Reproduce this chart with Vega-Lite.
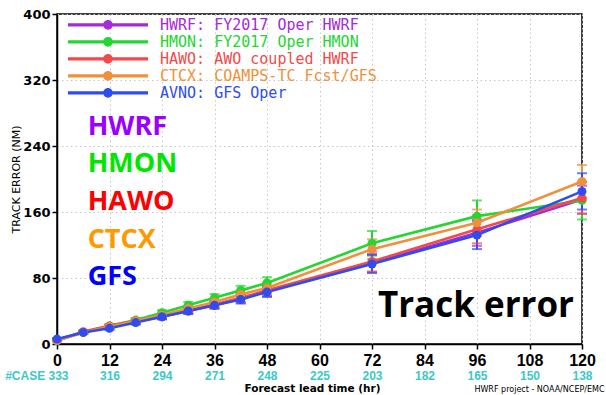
{
  "$schema": "https://vega.github.io/schema/vega-lite/v6.json",
  "width": 525,
  "height": 330,
  "autosize": {"type": "none"},
  "padding": {"left": 57, "top": 14, "right": 24, "bottom": 51},
  "background": "white",
  "title": {
    "text": "Track error",
    "orient": "top",
    "anchor": "end",
    "frame": "group",
    "offset": 0,
    "dx": -8,
    "dy": 344,
    "baseline": "alphabetic",
    "font": "Open Sans",
    "fontSize": 35,
    "fontWeight": "bold",
    "color": "black"
  },
  "datasets": {
    "tracks": [
      {"model": "HWRF: FY2017 Oper HWRF", "hour": 0, "err": 5, "lo": 4, "hi": 6},
      {"model": "HWRF: FY2017 Oper HWRF", "hour": 6, "err": 14, "lo": 12.5, "hi": 15.5},
      {"model": "HWRF: FY2017 Oper HWRF", "hour": 12, "err": 21, "lo": 19, "hi": 23},
      {"model": "HWRF: FY2017 Oper HWRF", "hour": 18, "err": 27, "lo": 24.5, "hi": 29.5},
      {"model": "HWRF: FY2017 Oper HWRF", "hour": 24, "err": 33, "lo": 30, "hi": 36},
      {"model": "HWRF: FY2017 Oper HWRF", "hour": 30, "err": 40, "lo": 36.5, "hi": 43.5},
      {"model": "HWRF: FY2017 Oper HWRF", "hour": 36, "err": 47, "lo": 43, "hi": 51},
      {"model": "HWRF: FY2017 Oper HWRF", "hour": 42, "err": 55, "lo": 50, "hi": 60},
      {"model": "HWRF: FY2017 Oper HWRF", "hour": 48, "err": 64, "lo": 58, "hi": 70},
      {"model": "HWRF: FY2017 Oper HWRF", "hour": 72, "err": 98, "lo": 87, "hi": 109},
      {"model": "HWRF: FY2017 Oper HWRF", "hour": 96, "err": 135, "lo": 119, "hi": 151},
      {"model": "HWRF: FY2017 Oper HWRF", "hour": 120, "err": 175, "lo": 158, "hi": 192},
      {"model": "HMON: FY2017 Oper HMON", "hour": 0, "err": 5, "lo": 4, "hi": 6},
      {"model": "HMON: FY2017 Oper HMON", "hour": 6, "err": 14, "lo": 12.5, "hi": 15.5},
      {"model": "HMON: FY2017 Oper HMON", "hour": 12, "err": 22, "lo": 20, "hi": 24},
      {"model": "HMON: FY2017 Oper HMON", "hour": 18, "err": 29, "lo": 26.5, "hi": 31.5},
      {"model": "HMON: FY2017 Oper HMON", "hour": 24, "err": 38, "lo": 35, "hi": 41},
      {"model": "HMON: FY2017 Oper HMON", "hour": 30, "err": 47, "lo": 43, "hi": 51},
      {"model": "HMON: FY2017 Oper HMON", "hour": 36, "err": 56, "lo": 51.5, "hi": 60.5},
      {"model": "HMON: FY2017 Oper HMON", "hour": 42, "err": 65, "lo": 59.5, "hi": 70.5},
      {"model": "HMON: FY2017 Oper HMON", "hour": 48, "err": 74, "lo": 67, "hi": 81},
      {"model": "HMON: FY2017 Oper HMON", "hour": 72, "err": 122, "lo": 107, "hi": 137},
      {"model": "HMON: FY2017 Oper HMON", "hour": 96, "err": 155, "lo": 136, "hi": 174},
      {"model": "HMON: FY2017 Oper HMON", "hour": 120, "err": 174, "lo": 151, "hi": 197},
      {"model": "HAWO: AWO coupled HWRF", "hour": 0, "err": 4, "lo": 3, "hi": 5},
      {"model": "HAWO: AWO coupled HWRF", "hour": 6, "err": 15, "lo": 13.5, "hi": 16.5},
      {"model": "HAWO: AWO coupled HWRF", "hour": 12, "err": 22, "lo": 20, "hi": 24},
      {"model": "HAWO: AWO coupled HWRF", "hour": 18, "err": 28, "lo": 25.5, "hi": 30.5},
      {"model": "HAWO: AWO coupled HWRF", "hour": 24, "err": 34, "lo": 31, "hi": 37},
      {"model": "HAWO: AWO coupled HWRF", "hour": 30, "err": 41, "lo": 37.5, "hi": 44.5},
      {"model": "HAWO: AWO coupled HWRF", "hour": 36, "err": 48, "lo": 44, "hi": 52},
      {"model": "HAWO: AWO coupled HWRF", "hour": 42, "err": 56, "lo": 51, "hi": 61},
      {"model": "HAWO: AWO coupled HWRF", "hour": 48, "err": 65, "lo": 59, "hi": 71},
      {"model": "HAWO: AWO coupled HWRF", "hour": 72, "err": 100, "lo": 88, "hi": 112},
      {"model": "HAWO: AWO coupled HWRF", "hour": 96, "err": 139, "lo": 122, "hi": 156},
      {"model": "HAWO: AWO coupled HWRF", "hour": 120, "err": 177, "lo": 158, "hi": 196},
      {"model": "CTCX: COAMPS-TC Fcst/GFS", "hour": 0, "err": 4, "lo": 3, "hi": 5},
      {"model": "CTCX: COAMPS-TC Fcst/GFS", "hour": 6, "err": 14, "lo": 12.5, "hi": 15.5},
      {"model": "CTCX: COAMPS-TC Fcst/GFS", "hour": 12, "err": 21, "lo": 19, "hi": 23},
      {"model": "CTCX: COAMPS-TC Fcst/GFS", "hour": 18, "err": 28, "lo": 25.5, "hi": 30.5},
      {"model": "CTCX: COAMPS-TC Fcst/GFS", "hour": 24, "err": 35, "lo": 32, "hi": 38},
      {"model": "CTCX: COAMPS-TC Fcst/GFS", "hour": 30, "err": 43, "lo": 39.5, "hi": 46.5},
      {"model": "CTCX: COAMPS-TC Fcst/GFS", "hour": 36, "err": 51, "lo": 46.5, "hi": 55.5},
      {"model": "CTCX: COAMPS-TC Fcst/GFS", "hour": 42, "err": 60, "lo": 54.5, "hi": 65.5},
      {"model": "CTCX: COAMPS-TC Fcst/GFS", "hour": 48, "err": 68, "lo": 61.5, "hi": 74.5},
      {"model": "CTCX: COAMPS-TC Fcst/GFS", "hour": 72, "err": 115, "lo": 103, "hi": 127},
      {"model": "CTCX: COAMPS-TC Fcst/GFS", "hour": 96, "err": 147, "lo": 131, "hi": 163},
      {"model": "CTCX: COAMPS-TC Fcst/GFS", "hour": 120, "err": 197, "lo": 177, "hi": 217},
      {"model": "AVNO: GFS Oper", "hour": 0, "err": 6, "lo": 5, "hi": 7},
      {"model": "AVNO: GFS Oper", "hour": 6, "err": 14, "lo": 12.5, "hi": 15.5},
      {"model": "AVNO: GFS Oper", "hour": 12, "err": 19, "lo": 17, "hi": 21},
      {"model": "AVNO: GFS Oper", "hour": 18, "err": 26, "lo": 23.5, "hi": 28.5},
      {"model": "AVNO: GFS Oper", "hour": 24, "err": 33, "lo": 30, "hi": 36},
      {"model": "AVNO: GFS Oper", "hour": 30, "err": 40, "lo": 36.5, "hi": 43.5},
      {"model": "AVNO: GFS Oper", "hour": 36, "err": 47, "lo": 43, "hi": 51},
      {"model": "AVNO: GFS Oper", "hour": 42, "err": 54, "lo": 49, "hi": 59},
      {"model": "AVNO: GFS Oper", "hour": 48, "err": 63, "lo": 57, "hi": 69},
      {"model": "AVNO: GFS Oper", "hour": 72, "err": 97, "lo": 86, "hi": 108},
      {"model": "AVNO: GFS Oper", "hour": 96, "err": 132, "lo": 115, "hi": 149},
      {"model": "AVNO: GFS Oper", "hour": 120, "err": 185, "lo": 163, "hi": 207}
    ],
    "cases": [
      {"hour": 0, "cases": "333"},
      {"hour": 12, "cases": "316"},
      {"hour": 24, "cases": "294"},
      {"hour": 36, "cases": "271"},
      {"hour": 48, "cases": "248"},
      {"hour": 60, "cases": "225"},
      {"hour": 72, "cases": "203"},
      {"hour": 84, "cases": "182"},
      {"hour": 96, "cases": "165"},
      {"hour": 108, "cases": "150"},
      {"hour": 120, "cases": "138"}
    ],
    "names": [
      {"name": "HWRF"},
      {"name": "HMON"},
      {"name": "HAWO"},
      {"name": "CTCX"},
      {"name": "GFS"}
    ]
  },
  "layer": [
    {
      "data": {"name": "tracks"},
      "encoding": {
        "x": {
          "field": "hour",
          "type": "quantitative",
          "scale": {"domain": [0, 120], "nice": false},
          "axis": {
            "values": [0, 12, 24, 36, 48, 60, 72, 84, 96, 108, 120],
            "title": "Forecast lead time (hr)",
            "titleFont": "DejaVu Sans",
            "titleFontSize": 10.5,
            "titleFontWeight": "bold",
            "titleColor": "black",
            "titleX": 255,
            "titleY": 47,
            "titleAlign": "center",
            "titleBaseline": "alphabetic",
            "labelFont": "Liberation Sans Narrow, Liberation Sans",
            "labelFontSize": 16,
            "labelFontWeight": "bold",
            "labelColor": "black",
            "labelPadding": 3,
            "labelFlush": false,
            "labelOverlap": false,
            "tickSize": 5,
            "tickColor": "black",
            "tickWidth": 1.5,
            "domainColor": "black",
            "domainWidth": 1.5,
            "grid": true,
            "gridColor": "#c8c8c8",
            "gridDash": [1.5, 3]
          }
        },
        "y": {
          "field": "err",
          "type": "quantitative",
          "title": "TRACK ERROR (NM)",
          "scale": {"domain": [0, 400], "nice": false},
          "axis": {"values": [0, 80, 160, 240, 320, 400]}
        },
        "color": {
          "field": "model",
          "type": "nominal",
          "scale": {
            "domain": ["HWRF: FY2017 Oper HWRF", "HMON: FY2017 Oper HMON", "HAWO: AWO coupled HWRF", "CTCX: COAMPS-TC Fcst/GFS", "AVNO: GFS Oper"],
            "range": ["#a52ad8", "#23d630", "#f24a4a", "#f0903a", "#2e4cf0"]
          },
          "legend": {
            "title": null,
            "orient": "none",
            "legendX": 11,
            "legendY": 2.5,
            "padding": 0,
            "rowPadding": 0,
            "clipHeight": 16.7,
            "symbolType": "M-1,-0.042L1,-0.042L1,0.042L-1,0.042Z M0.12,0A0.12,0.12 0 1 1 -0.12,0A0.12,0.12 0 1 1 0.12,0Z",
            "symbolSize": 6400,
            "symbolStrokeWidth": 0,
            "symbolOpacity": 1,
            "labelOffset": 12,
            "labelFont": "DejaVu Sans Mono",
            "labelFontSize": 15,
            "labelLimit": 0,
            "encode": {
              "symbols": {"update": {"fill": {"scale": "color", "field": "value"}, "fillOpacity": {"value": 1}, "opacity": {"value": 1}}},
              "labels": {"update": {"fill": {"scale": "color", "field": "value"}}}
            }
          }
        }
      },
      "layer": [
        {
          "mark": {"type": "rule", "strokeWidth": 2},
          "encoding": {
            "y": {"field": "lo", "type": "quantitative", "title": "TRACK ERROR (NM)", "scale": {"domain": [0, 400], "nice": false}, "axis": {"values": [0, 80, 160, 240, 320, 400]}},
            "y2": {"field": "hi"}
          }
        },
        {
          "mark": {"type": "tick", "orient": "horizontal", "size": 10, "thickness": 2},
          "encoding": {
            "y": {"field": "lo", "type": "quantitative", "title": "TRACK ERROR (NM)", "scale": {"domain": [0, 400], "nice": false}, "axis": {"values": [0, 80, 160, 240, 320, 400]}}
          }
        },
        {
          "mark": {"type": "tick", "orient": "horizontal", "size": 10, "thickness": 2},
          "encoding": {
            "y": {"field": "hi", "type": "quantitative", "title": "TRACK ERROR (NM)", "scale": {"domain": [0, 400], "nice": false}, "axis": {"values": [0, 80, 160, 240, 320, 400]}}
          }
        },
        {"mark": {"type": "line", "strokeWidth": 2.6}},
        {"mark": {"type": "point", "filled": true, "size": 80, "opacity": 1}}
      ]
    },
    {
      "data": {"name": "cases"},
      "mark": {"type": "point", "opacity": 0},
      "encoding": {
        "x": {
          "field": "cases",
          "type": "ordinal",
          "sort": null,
          "scale": {"type": "point", "padding": 0},
          "axis": {
            "orient": "bottom",
            "offset": 20,
            "domain": false,
            "ticks": false,
            "tickSize": 0,
            "grid": false,
            "labelPadding": 6,
            "labelAngle": 0,
            "labelOverlap": false,
            "labelFont": "Liberation Sans",
            "labelFontSize": 12,
            "labelFontWeight": "bold",
            "labelColor": "#3cc8c8",
            "labelExpr": "datum.index == 0 ? '#CASE ' + datum.label : datum.label",
            "labelAlign": {"condition": {"test": "datum.index == 0", "value": "right"}, "value": "center"},
            "labelOffset": {"condition": {"test": "datum.index == 0", "value": 11}, "value": 0},
            "title": "HWRF project - NOAA/NCEP/EMC",
            "titleFont": "DejaVu Sans",
            "titleFontSize": 8,
            "titleFontWeight": "normal",
            "titleColor": "black",
            "titleX": 547,
            "titleY": 27,
            "titleAlign": "right",
            "titleBaseline": "alphabetic"
          }
        }
      }
    },
    {
      "data": {"name": "names"},
      "mark": {"type": "text", "align": "left", "baseline": "middle", "font": "Open Sans", "fontSize": 27, "fontWeight": "bold"},
      "encoding": {
        "x": {"datum": 7, "type": "quantitative", "scale": {"domain": [0, 120], "nice": false}, "axis": null},
        "y": {"field": "name", "type": "ordinal", "sort": null, "scale": {"type": "point", "padding": 0, "range": [112.5, 263.3]}, "axis": null},
        "text": {"field": "name"},
        "fill": {
          "field": "name",
          "type": "nominal",
          "scale": {
            "domain": ["HWRF", "HMON", "HAWO", "CTCX", "GFS"],
            "range": ["#9900ff", "#00e600", "#ff0000", "#ff9900", "#0000ff"]
          },
          "legend": null
        }
      }
    }
  ],
  "resolve": {"scale": {"x": "independent", "y": "independent"}, "axis": {"x": "independent", "y": "independent"}},
  "config": {
    "view": {"stroke": "black", "strokeWidth": 1.5},
    "axisY": {
      "labelFont": "DejaVu Sans",
      "labelFontSize": 13,
      "labelFontWeight": "bold",
      "labelColor": "black",
      "labelPadding": 2,
      "tickSize": 5,
      "tickColor": "black",
      "tickWidth": 1.5,
      "domainColor": "black",
      "domainWidth": 1.5,
      "gridColor": "#c8c8c8",
      "gridDash": [1.5, 3],
      "titleFont": "DejaVu Sans",
      "titleFontSize": 11,
      "titleFontWeight": "normal",
      "titleColor": "black",
      "titlePadding": 1
    }
  }
}
